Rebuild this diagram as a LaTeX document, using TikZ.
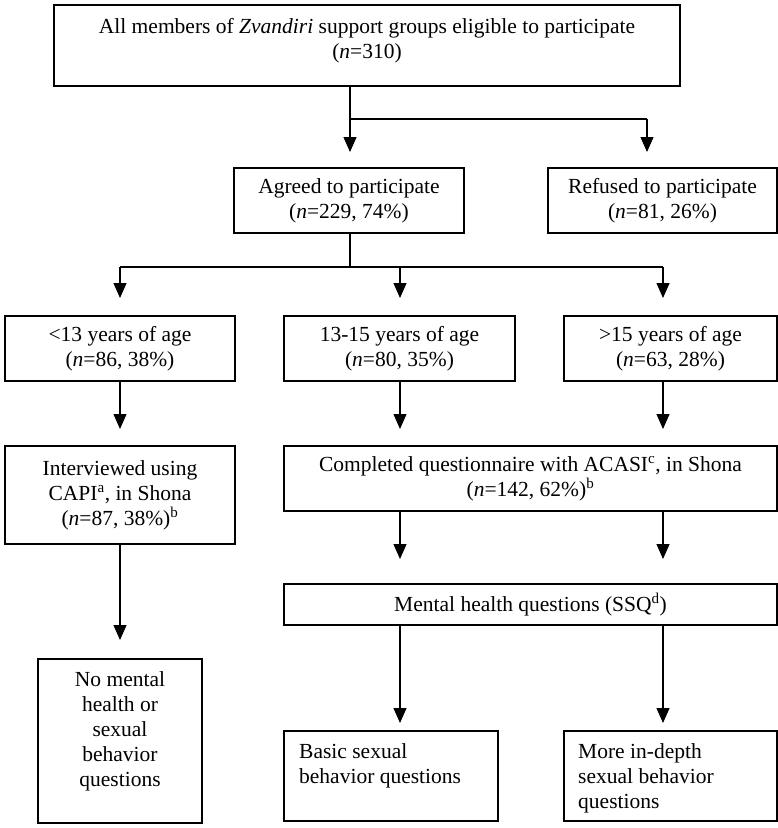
\documentclass[tikz,border=0pt]{standalone}
\usepackage{fontspec}
\setmainfont{Liberation Serif}
\usetikzlibrary{arrows.meta}
\newcommand{\fsz}{\fontsize{21.5}{25}\selectfont}
\begin{document}
\begin{tikzpicture}[x=1pt,y=-1pt,
  box/.style={draw, line width=1.2pt, inner sep=0pt, align=center, font=\fsz},
  txt/.style={inner sep=0pt, font=\fsz},
  conn/.style={line width=1.2pt},
  arr/.style={line width=1.2pt, -{Triangle[length=15pt,width=13pt]}}]
\useasboundingbox (0,0) rectangle (778,828);
\fill[white] (0,0) rectangle (778,828);

% boxes
\node[box, minimum width=626pt, minimum height=81pt] (top) at (367,45.5) {};
\node[txt, align=center, anchor=north] (toptxt) at (367,15.5)
  {\strut All members of \textit{Zvandiri} support groups eligible to participate\\(\textit{n}=310)};
\node[box, minimum width=230pt, minimum height=65pt] (agreed) at (349,200.5)
  {Agreed to participate\\(\textit{n}=229, 74\%)};
\node[box, minimum width=229pt, minimum height=65pt] (refused) at (662.5,200.5)
  {Refused to participate\\(\textit{n}=81, 26\%)};
\node[box, minimum width=230pt, minimum height=65pt] (age1) at (120,348.5)
  {<13 years of age\\(\textit{n}=86, 38\%)};
\node[box, minimum width=231pt, minimum height=65pt] (age2) at (399.5,348.5)
  {13-15 years of age\\(\textit{n}=80, 35\%)};
\node[box, minimum width=213pt, minimum height=65pt] (age3) at (670.5,348.5)
  {>15 years of age\\(\textit{n}=63, 28\%)};
\node[box, minimum width=230pt, minimum height=98pt] (interv) at (120,495)
  {Interviewed using\\CAPI\textsuperscript{a}, in Shona\\(\textit{n}=87, 38\%)\textsuperscript{b}};
\node[box, minimum width=493pt, minimum height=65pt] (compl) at (530.5,478.5)
  {Completed questionnaire with ACASI\textsuperscript{c}, in Shona\\(\textit{n}=142, 62\%)\textsuperscript{b}};
\node[box, minimum width=493pt, minimum height=41pt] (mental) at (530.5,604.5)
  {Mental health questions (SSQ\textsuperscript{d})};
\node[box, minimum width=164pt, minimum height=164pt] (nomental) at (120,741) {};
\node[txt, align=center, anchor=north] (nomentaltxt) at (120,668.5)
  {\strut No mental\\health or\\sexual\\behavior\\questions};
\node[box, minimum width=214pt, minimum height=90pt] (basic) at (391,776) {};
\node[txt, align=left, anchor=north west] (basictxt) at (299,740.5)
  {\strut Basic sexual\\behavior questions};
\node[box, minimum width=213pt, minimum height=90pt] (more) at (670.5,776) {};
\node[txt, align=left, anchor=north west] (moretxt) at (578,740.5)
  {\strut More in-depth\\sexual behavior\\questions};

% junctions and arrow ends
\coordinate (j1) at (350,119);
\coordinate (j1r) at (647,119);
\coordinate (e1) at (350,152);
\coordinate (e2) at (647,152);
\coordinate (j2) at (350,267);
\coordinate (j2l) at (120,267);
\coordinate (j2m) at (400,267);
\coordinate (j2r) at (663,267);
\coordinate (e3) at (120,298);
\coordinate (e4) at (400,298);
\coordinate (e5) at (663,298);
\coordinate (e6) at (120,429);
\coordinate (e7) at (400,429);
\coordinate (e8) at (663,429);
\coordinate (e9) at (120,640);
\coordinate (e10) at (400,559);
\coordinate (e11) at (663,559);
\coordinate (e12) at (400,723);
\coordinate (e13) at (663,723);

% connectors
\draw[conn] (top.south -| j1) -- (j1) -- (j1r);
\draw[arr] (j1) -- (e1);
\draw[arr] (j1r) -- (e2);
\draw[conn] (agreed.south -| j2) -- (j2);
\draw[conn] (j2l) -- (j2r);
\draw[arr] (j2l) -- (e3);
\draw[arr] (j2m) -- (e4);
\draw[arr] (j2r) -- (e5);
\draw[arr] (age1.south) -- (e6);
\draw[arr] (age2.south -| e7) -- (e7);
\draw[arr] (age3.south -| e8) -- (e8);
\draw[arr] (interv.south) -- (e9);
\draw[arr] (compl.south -| e10) -- (e10);
\draw[arr] (compl.south -| e11) -- (e11);
\draw[arr] (mental.south -| e12) -- (e12);
\draw[arr] (mental.south -| e13) -- (e13);
\end{tikzpicture}
\end{document}
